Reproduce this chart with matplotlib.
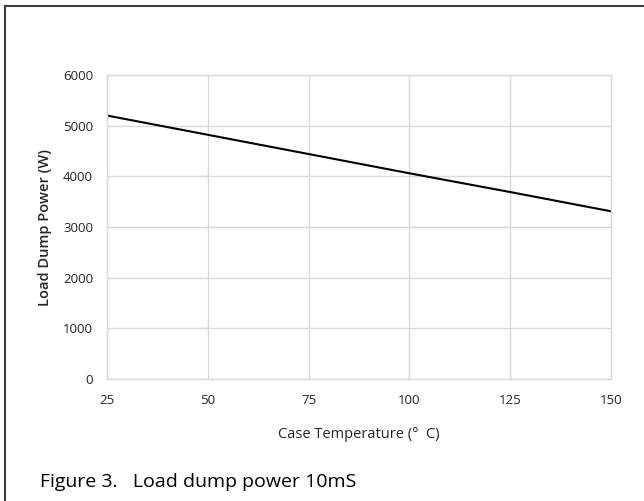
import matplotlib
matplotlib.use('Agg')
import matplotlib.pyplot as plt
from matplotlib.lines import Line2D

# case temperature (C) vs load dump power (W)
temp = [25, 50, 75, 100, 125, 150]
power = [5200, 4820, 4440, 4060, 3690, 3310]

x_ticks = [25, 50, 75, 100, 125, 150]
y_ticks = [0, 1000, 2000, 3000, 4000, 5000, 6000]

plt.rcParams['font.family'] = ['Open Sans', 'DejaVu Sans']
grid_color = '#d9d9d9'
text_color = '#262626'

fig = plt.figure(figsize=(6.44, 5.01), dpi=100)
ax = fig.add_axes([107 / 644, 1 - 379 / 501, 504 / 644, 304 / 501])

ax.plot(temp, power, color='black', linewidth=1.5)

ax.set_xlim(25, 150)
ax.set_ylim(0, 6000)
ax.set_xticks(x_ticks)
ax.set_yticks(y_ticks)
ax.grid(True, color=grid_color, linewidth=1)
ax.set_axisbelow(True)
for side in ax.spines:
    ax.spines[side].set_color(grid_color)
    ax.spines[side].set_linewidth(1)
ax.tick_params(length=0, labelsize=9.5, labelcolor=text_color)
ax.tick_params(axis='x', pad=11)
ax.tick_params(axis='y', pad=10)

ax.set_xlabel('Case Temperature (°  C)', fontsize=10.5, color=text_color, labelpad=14)
ax.set_ylabel('Load Dump Power (W)', fontsize=10.5, color=text_color,
              fontweight='semibold', labelpad=8)

fig.text(40 / 644, 1 - 482 / 501, 'Figure 3.   Load dump power 10mS',
         fontsize=14, color='black', va='center', ha='left')

# outer frame (left and top edges)
fx = 4.5 / 644
fy = 1 - 5.5 / 501
fig.add_artist(Line2D([fx, fx], [0, fy], color='#404040', linewidth=1.5))
fig.add_artist(Line2D([fx, 1], [fy, fy], color='#404040', linewidth=1.5))

fig.savefig('out.png', dpi=100)
